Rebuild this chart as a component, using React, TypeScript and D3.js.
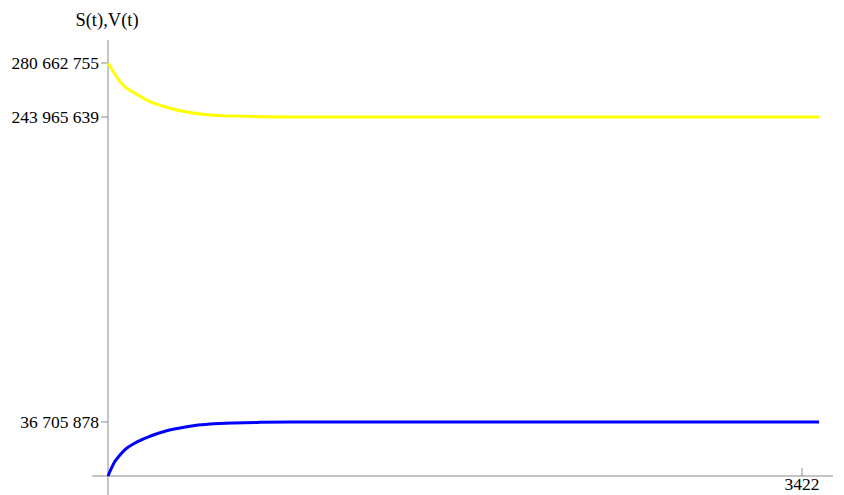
import React from "react";
import * as d3 from "d3";

const tValues = [0, 34.5, 59, 84, 133, 207, 281, 355, 429, 503, 626, 750, 900, 1100, 1500, 2000, 2500, 3000, 3506];
const sValues = [280662755, 273000000, 268000000, 264500000, 260070000, 254360000, 250970000, 248250000, 246480000, 245320000, 244600000, 244200000, 244030000, 243980000, 243967000, 243965700, 243965639, 243965639, 243965639];
const vValues = [0, 10000000, 14200000, 17900000, 22400000, 27000000, 30400000, 32600000, 34300000, 35300000, 36100000, 36450000, 36630000, 36690000, 36704000, 36705800, 36705878, 36705878, 36705878];
const yTicks = [280662755, 243965639, 36705878];
const xTicks = [3422];
const yLabel = "S(t),V(t)";

const fmt = (v: number) => String(v).replace(/\B(?=(\d{3})+(?!\d))/g, " ");

export default function App() {
  const W = 844, H = 495;
  const x = d3.scaleLinear().domain([0, 3422]).range([108, 802]);
  const y = d3.scaleLinear().domain([0, 280662755]).range([476, 63]);
  const line = d3.line<number>().x((_, i) => x(tValues[i])).y((d) => y(d)).curve(d3.curveMonotoneX);
  const axisColor = "#8a8a8a";
  const font = "'Liberation Serif', 'Times New Roman', serif";
  return (
    <svg width={W} height={H} style={{ position: "absolute", left: 0, top: 0, background: "#fff" }}>
      <line x1={92} x2={833} y1={y(0)} y2={y(0)} stroke={axisColor} strokeWidth={1} />
      <line x1={x(0)} x2={x(0)} y1={40} y2={495} stroke={axisColor} strokeWidth={1} />
      {yTicks.map((t) => (
        <g key={t}>
          <line x1={x(0) - 7} x2={x(0)} y1={y(t)} y2={y(t)} stroke={axisColor} />
          <text x={99} y={y(t) + 6} textAnchor="end" fontFamily={font} fontSize={17.5} fill="#000">{fmt(t)}</text>
        </g>
      ))}
      {xTicks.map((t) => (
        <g key={t}>
          <line x1={x(t)} x2={x(t)} y1={y(0) - 8} y2={y(0)} stroke={axisColor} />
          <text x={x(t)} y={490} textAnchor="middle" fontFamily={font} fontSize={17.5} fill="#000">{t}</text>
        </g>
      ))}
      <text x={107} y={26} textAnchor="middle" fontFamily={font} fontSize={18.5} fill="#000">{yLabel}</text>
      <path d={line(sValues) || ""} fill="none" stroke="#ffff00" strokeWidth={3} />
      <path d={line(vValues) || ""} fill="none" stroke="#0000ff" strokeWidth={3} />
    </svg>
  );
}
